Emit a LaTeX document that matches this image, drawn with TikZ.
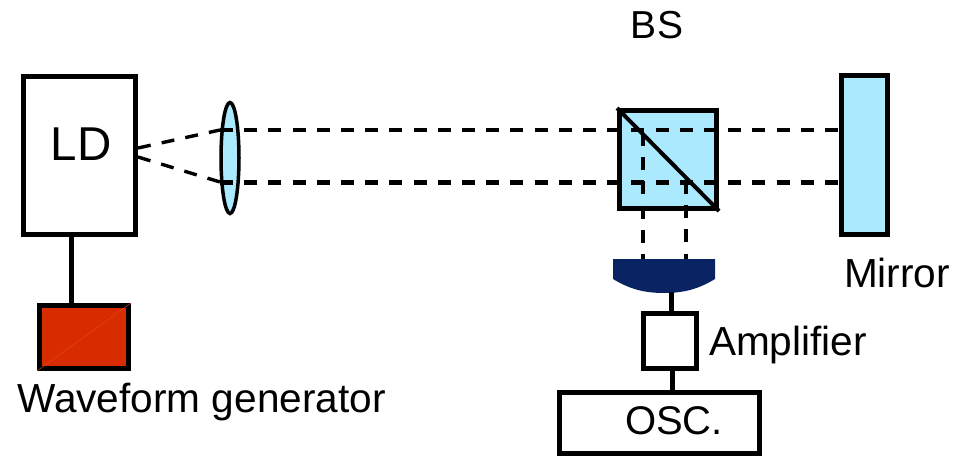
\documentclass[tikz,border=0pt]{standalone}
\usepackage{fontspec}
\setmainfont{Liberation Sans}
\usepackage{xcolor}
\usetikzlibrary{shapes.geometric}
\definecolor{nodeoptic}{RGB}{171,233,255}
\definecolor{nodegen}{RGB}{217,43,0}
\definecolor{nodedet}{RGB}{10,36,99}
\tikzset{
  boxnode/.style   = {rectangle, draw=black, line width=5pt, inner sep=0pt, fill=white},
  opticnode/.style = {boxnode, fill=nodeoptic},
  wireedge/.style  = {draw=black, line width=5pt},
  thinbeam/.style  = {draw=black, line width=3.4pt, dash pattern=on 13pt off 11.2pt},
  fatbeam/.style   = {draw=black, line width=5pt, dash pattern=on 13pt off 11.2pt},
  downbeam/.style  = {draw=black, line width=4pt, dash pattern=on 13pt off 11.2pt},
  lbl/.style       = {anchor=base, inner sep=0pt, font=\fontsize{40.6}{46}\selectfont}
}
\begin{document}
\begin{tikzpicture}[x=1pt, y=-1pt]
  \useasboundingbox (0,0) rectangle (953,456);
  % ---- nodes ----
  \node[boxnode, minimum width=112pt, minimum height=158pt] (LD) at (79.5,155) {};
  \node[boxnode, fill=nodegen, minimum width=89pt, minimum height=63pt] (gen) at (84,337) {};
  \node[ellipse, draw=black, line width=3.5pt, fill=nodeoptic, inner sep=0pt,
        minimum width=18pt, minimum height=111pt] (lens) at (230,158) {};
  \node[opticnode, minimum width=97pt, minimum height=98pt] (BS) at (668,159.5) {};
  \node[opticnode, minimum width=46pt, minimum height=159pt] (mirror) at (864.5,155) {};
  \node[boxnode, minimum width=53pt, minimum height=55pt] (amp) at (670,341) {};
  \node[boxnode, minimum width=200pt, minimum height=60.5pt] (osc) at (659.5,422.75) {};
  % ---- detector ----
  \fill[nodedet] (613,259) -- (715,259) -- (715,279)
    .. controls (700,288) and (686,293) .. (664,293)
    .. controls (642,293) and (628,288) .. (613,279) -- cycle;
  \coordinate (detout) at (671,292);
  % ---- free ends of the beams ----
  \coordinate (ldtap)  at (71,0);
  \coordinate (ampx)   at (672,0);
  \coordinate (ldA)    at (138,148);
  \coordinate (ldB)    at (138,157);
  \coordinate (lensA)  at (220,130);
  \coordinate (lensB)  at (220,182);
  \coordinate (splitA) at (643,133);
  \coordinate (splitB) at (686,181);
  \coordinate (detA)   at (643,259);
  \coordinate (detB)   at (686,259);
  % ---- beams ----
  \draw[thinbeam] (ldA)--(lensA); \draw[thinbeam] (ldB)--(lensB);
  \draw[thinbeam] (lensA)--(lensA -| mirror.west);
  \draw[fatbeam]  (lensB)--(lensB -| mirror.west);
  \draw[downbeam] (splitA)--(detA); \draw[downbeam] (splitB)--(detB);
  % ---- splitter face ----
  \draw[black, line width=4pt] (BS.north west)--(BS.south east);
  % ---- edges ----
  \draw[wireedge] (ldtap |- LD.south)--(ldtap |- gen.north);
  \draw[wireedge] (detout)--(detout |- amp.north);
  \draw[wireedge] (ampx |- amp.south)--(ampx |- osc.north);
  \draw[nodegen!85!white, line width=0.4pt] (gen.south west)--(gen.north east);
  % ---- labels ----
  \node[lbl, font=\fontsize{47.5}{54}\selectfont] (ldlbl) at (81,160) {LD};
  \node[lbl] (genlbl) at (201.5,412) {Waveform generator};
  \node[lbl, font=\fontsize{39}{46}\selectfont] (bslbl) at (657,38) {BS};
  \node[lbl] (mirrorlbl) at (897,287) {Mirror};
  \node[lbl] (amplbl) at (788,355) {Amplifier};
  \node[lbl, font=\fontsize{40}{46}\selectfont] (osclbl) at (674,434) {OSC.};
\end{tikzpicture}
\end{document}
